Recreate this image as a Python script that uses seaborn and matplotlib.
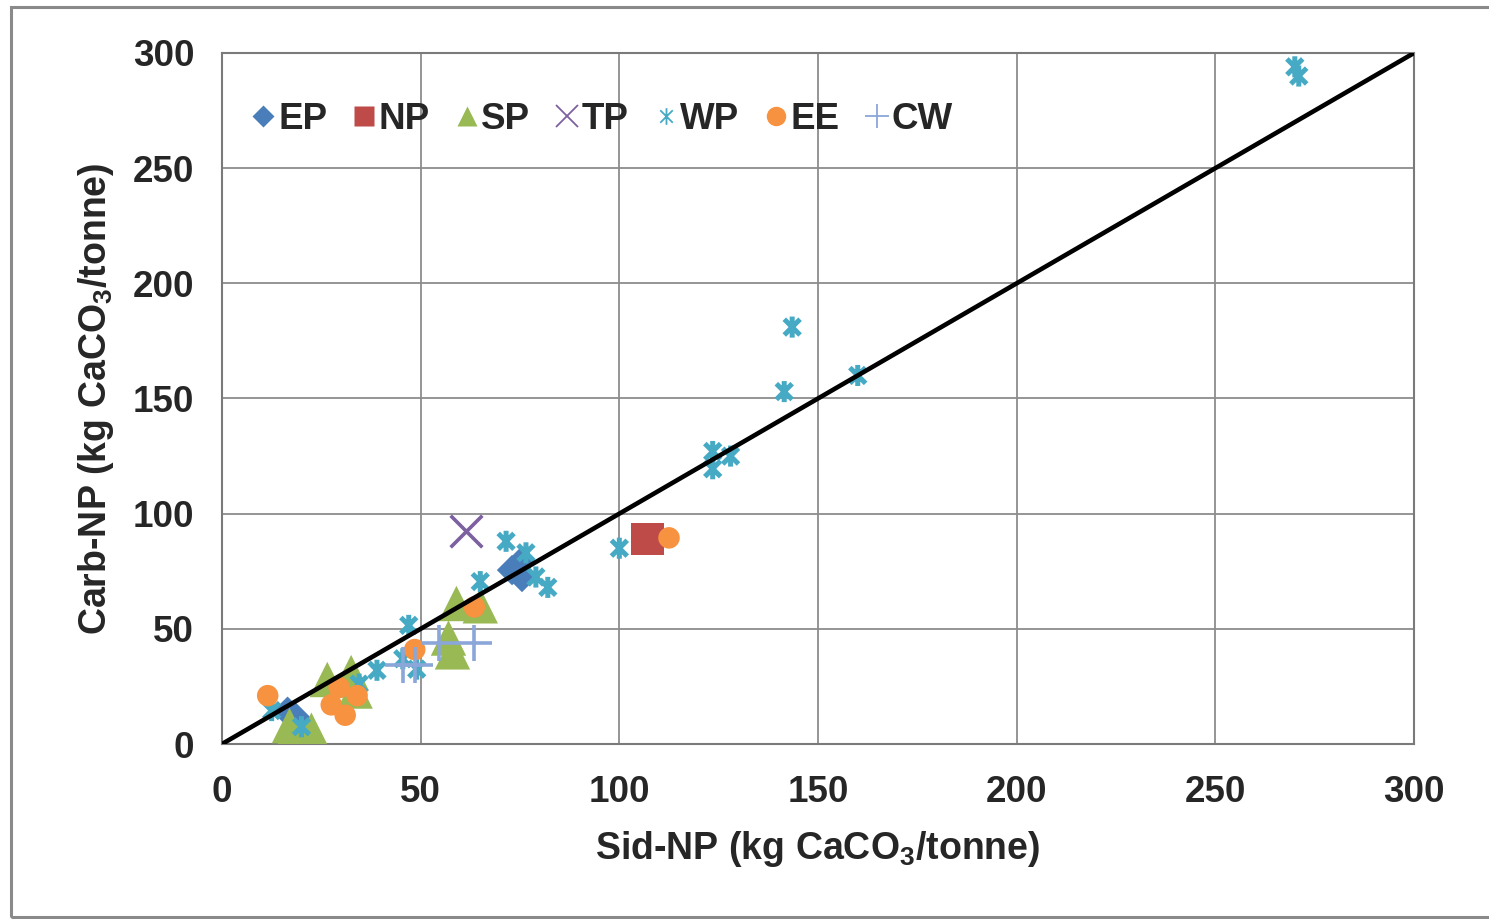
import matplotlib
matplotlib.use('Agg')
import matplotlib.pyplot as plt
import seaborn as sns
from matplotlib.path import Path
from matplotlib.lines import Line2D
from matplotlib.patches import Rectangle

# ---------------- data ----------------
series_names = ["EP", "NP", "SP", "TP", "WP", "EE", "CW"]

EP_x = [16.5, 18.5, 73, 75, 75.5]
EP_y = [14, 11.5, 75.5, 78.5, 72.5]

NP_x = [107]
NP_y = [89]

SP_x = [16.5, 17, 22.5, 26.5, 32.5, 33.5, 57, 58, 59, 65]
SP_y = [1, 8, 6, 28, 31, 23, 46, 40, 61, 60]

TP_x = [61.5]
TP_y = [92.5]

WP_x = [270, 271, 143.5, 141.5, 160, 123.5, 128, 123.5, 100, 71.5, 76.5, 79, 82,
        65, 47, 39, 45.5, 49, 34.5, 12.5, 20]
WP_y = [294, 290, 181, 153, 160, 127, 125, 119.5, 85, 88, 83, 72.5, 68,
        70.5, 51.5, 32, 37, 32.5, 26, 14.5, 7.5]

EE_x = [11.5, 29.5, 34, 27.5, 31, 48.5, 63.5, 112.5]
EE_y = [21, 24.5, 21, 17, 12.5, 41, 59.5, 89.5]

CW_x = [45.5, 48.5, 54.5, 63.5]
CW_y = [34.5, 34.5, 44, 44]

line_x = [0, 300]
line_y = [0, 300]

ticks = [0, 50, 100, 150, 200, 250, 300]
xlabel = r"Sid-NP (kg CaCO$_\mathbf{3}$/tonne)"
ylabel = r"Carb-NP (kg CaCO$_\mathbf{3}$/tonne)"

# ---------------- style ----------------
sns.set_style("white")
plt.rcParams['font.family'] = ['Liberation Sans', 'DejaVu Sans']
plt.rcParams['mathtext.fontset'] = 'custom'
plt.rcParams['mathtext.rm'] = 'Liberation Sans'
plt.rcParams['mathtext.bf'] = 'Liberation Sans:bold'
plt.rcParams['mathtext.it'] = 'Liberation Sans:italic'

colors = {
    "EP": "#4A7EBB",
    "NP": "#BE4B48",
    "SP": "#98B954",
    "TP": "#7D60A0",
    "WP": "#46AAC5",
    "EE": "#F69240",
    "CW": "#8BA6D8",
}

star = Path([(0, -1), (0, 1), (-0.75, -0.75), (0.75, 0.75), (-0.75, 0.75), (0.75, -0.75)],
            [Path.MOVETO, Path.LINETO, Path.MOVETO, Path.LINETO, Path.MOVETO, Path.LINETO])

fig = plt.figure(figsize=(14.89, 9.19), dpi=100)
ax = fig.add_axes([222 / 1489, 1 - 744 / 919, 1192 / 1489, 691 / 919])

# figure border
fig.patches.append(Rectangle((11 / 1489, 2 / 919), 1.05, 1 - 9 / 919, transform=fig.transFigure,
                             fill=False, edgecolor="#8a8a8a", linewidth=2.2, zorder=0))

kw = dict(ax=ax, legend=False)
sns.scatterplot(x=EP_x, y=EP_y, marker="D", s=240, color=colors["EP"], edgecolor="none", zorder=3, **kw)
sns.scatterplot(x=NP_x, y=NP_y, marker="s", s=560, color=colors["NP"], edgecolor="none", zorder=3, **kw)
sns.scatterplot(x=SP_x, y=SP_y, marker="^", s=650, color=colors["SP"], edgecolor="none", zorder=3, **kw)
sns.scatterplot(x=TP_x, y=TP_y, marker="x", s=520, color=colors["TP"], linewidth=2.6, zorder=3, **kw)
sns.scatterplot(x=WP_x, y=WP_y, marker=star, s=230, facecolor="none", edgecolor=colors["WP"],
                linewidth=3.6, zorder=3, **kw)
sns.scatterplot(x=EE_x, y=EE_y, marker="o", s=240, color=colors["EE"], edgecolor="none", zorder=3, **kw)
sns.scatterplot(x=CW_x, y=CW_y, marker="+", s=650, color=colors["CW"], linewidth=2.6, zorder=3, **kw)
sns.lineplot(x=line_x, y=line_y, color="black", linewidth=3.3, zorder=4, ax=ax)

ax.set_xlim(0, 300)
ax.set_ylim(0, 300)
ax.set_xticks(ticks)
ax.set_yticks(ticks)
ax.set_xticklabels([str(t) for t in ticks])
ax.set_yticklabels([str(t) for t in ticks])
ax.tick_params(axis='both', length=0, labelsize=26.5)
ax.tick_params(axis='x', pad=22)
ax.tick_params(axis='y', pad=20)
for lab in ax.get_xticklabels() + ax.get_yticklabels():
    lab.set_fontweight('bold')
ax.grid(True, color="#8c8c8c", linewidth=1.3)
ax.set_axisbelow(True)
for sp in ax.spines.values():
    sp.set_color("#7a7a7a")
    sp.set_linewidth(1.5)

ax.set_xlabel(xlabel, fontsize=27, fontweight='bold', labelpad=14)
ax.set_ylabel(ylabel, fontsize=27, fontweight='bold', labelpad=12)

# legend
handles = [
    Line2D([], [], linestyle='none', marker="D", markersize=11, color=colors["EP"], markeredgecolor='none'),
    Line2D([], [], linestyle='none', marker="s", markersize=14, color=colors["NP"], markeredgecolor='none'),
    Line2D([], [], linestyle='none', marker="^", markersize=15, color=colors["SP"], markeredgecolor='none'),
    Line2D([], [], linestyle='none', marker="x", markersize=16, color=colors["TP"], markeredgewidth=1.3),
    Line2D([], [], linestyle='none', marker=star, markersize=12, color=colors["WP"], markeredgewidth=1.3,
           markerfacecolor='none'),
    Line2D([], [], linestyle='none', marker="o", markersize=14, color=colors["EE"], markeredgecolor='none'),
    Line2D([], [], linestyle='none', marker="+", markersize=17, color=colors["CW"], markeredgewidth=1.3),
]
leg = ax.legend(handles, series_names, ncol=7, loc='center left', bbox_to_anchor=(0.024, 0.904),
                frameon=False, handlelength=0.7, handletextpad=0.05, columnspacing=0.65,
                borderpad=0, borderaxespad=0, prop={'size': 26.5, 'weight': 'bold'})

fig.savefig("out.png", dpi=100)
